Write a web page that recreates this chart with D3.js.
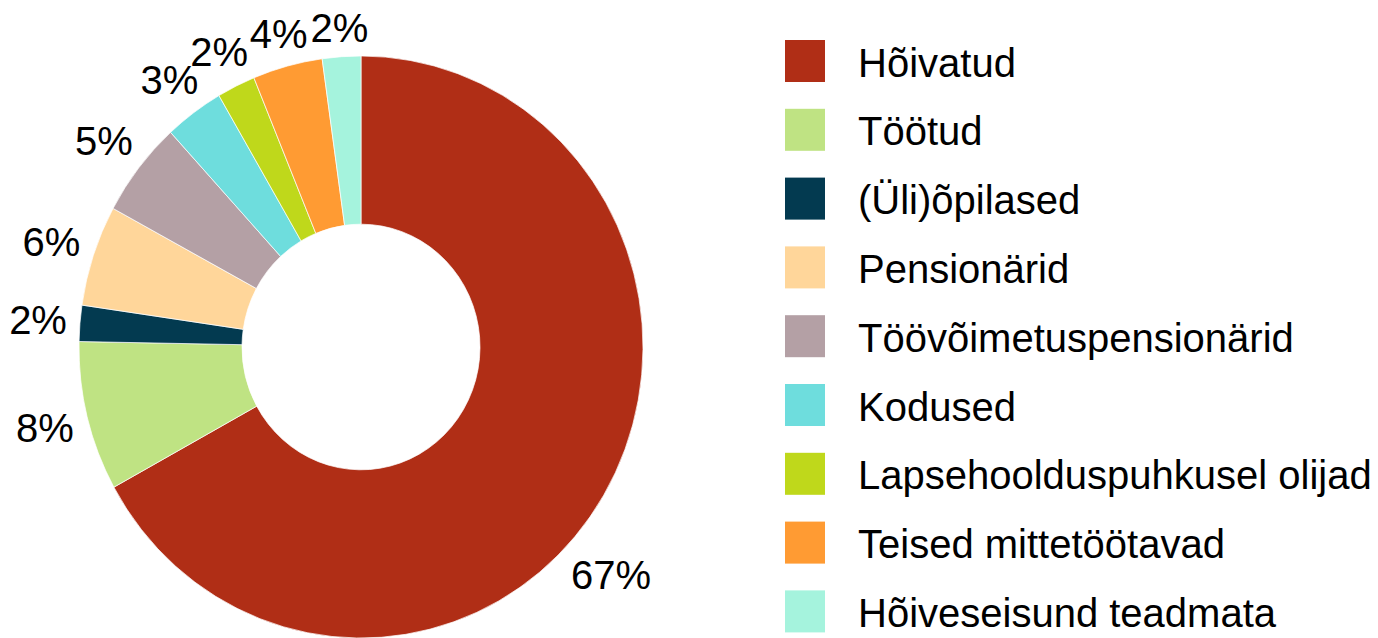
<!DOCTYPE html>
<html>
<head>
<meta charset="utf-8">
<script src="https://cdn.jsdelivr.net/npm/d3@7"></script>
<style>
  body { margin: 0; background: #fff; }
  text { font-family: "Liberation Sans", Arial, sans-serif; fill: #000; }
</style>
</head>
<body>
<div id="my_dataviz"></div>
<script>
// chart size
const width = 1378
const height = 638

// data (shares in %)
const categories = ["Hõivatud", "Töötud", "(Üli)õpilased", "Pensionärid", "Töövõimetuspensionärid",
    "Kodused", "Lapsehoolduspuhkusel olijad", "Teised mittetöötavad", "Hõiveseisund teadmata"]
const shares = [67.0, 8.3, 2.0, 5.6, 5.3, 3.4, 2.2, 4.0, 2.2]
const colors = ["#B02E16", "#BFE383", "#033A50", "#FFD69A", "#B4A0A5",
    "#6EDDDD", "#BFD81B", "#FF9B33", "#A5F3DD"]

const svg = d3.select("#my_dataviz")
  .append("svg")
    .attr("width", width)
    .attr("height", height)

// donut is a little taller than wide in the original
const cx = 361, cy = 347
const outerR = 282, innerR = 119
const ky = 1.032

const color = d3.scaleOrdinal().domain(categories).range(colors)

const pie = d3.pie().sort(null).value(d => d.value)
const data = categories.map((c, i) => ({name: c, value: shares[i]}))
const arcs = pie(data)

const arc = d3.arc().innerRadius(innerR).outerRadius(outerR)

svg.append("g")
    .attr("transform", `translate(${cx},${cy}) scale(1,${ky})`)
  .selectAll("path")
  .data(arcs)
  .join("path")
    .attr("d", arc)
    .attr("fill", d => color(d.data.name))
    .attr("stroke", "#fff")
    .attr("stroke-width", 0.7)

// percentage labels just outside the ring
const fmt = d => Math.round(d) + "%"
const labels = svg.append("g")
  .selectAll("text")
  .data(arcs)
  .join("text")
    .attr("text-anchor", "middle")
    .style("font-size", "40px")
    .text(d => fmt(d.data.value))

labels.each(function(d) {
    const w = this.getComputedTextLength()
    let a = (d.startAngle + d.endAngle) / 2
    if (d.endAngle - d.startAngle > Math.PI) a += 0.19   // big slice label sits a bit lower
    const s = Math.sin(a), c = Math.cos(a)
    const pad = 12 + Math.abs(s) * w / 2 + Math.abs(c) * 15
    const x = cx + (outerR + pad) * s
    const y = cy - (outerR * ky + pad) * c
    d3.select(this).attr("x", x).attr("y", y + 14.5)
})

// legend
const legendX = 785
const legendY = 40
const rowH = 68.8

const legend = svg.append("g")
  .selectAll("g")
  .data(categories)
  .join("g")
    .attr("transform", (d, i) => `translate(${legendX},${legendY + i * rowH})`)

legend.append("rect")
    .attr("width", 40)
    .attr("height", 42)
    .attr("fill", d => color(d))

legend.append("text")
    .attr("x", 73)
    .attr("y", 21 + 15.5)
    .style("font-size", "40px")
    .text(d => d)
</script>
</body>
</html>
